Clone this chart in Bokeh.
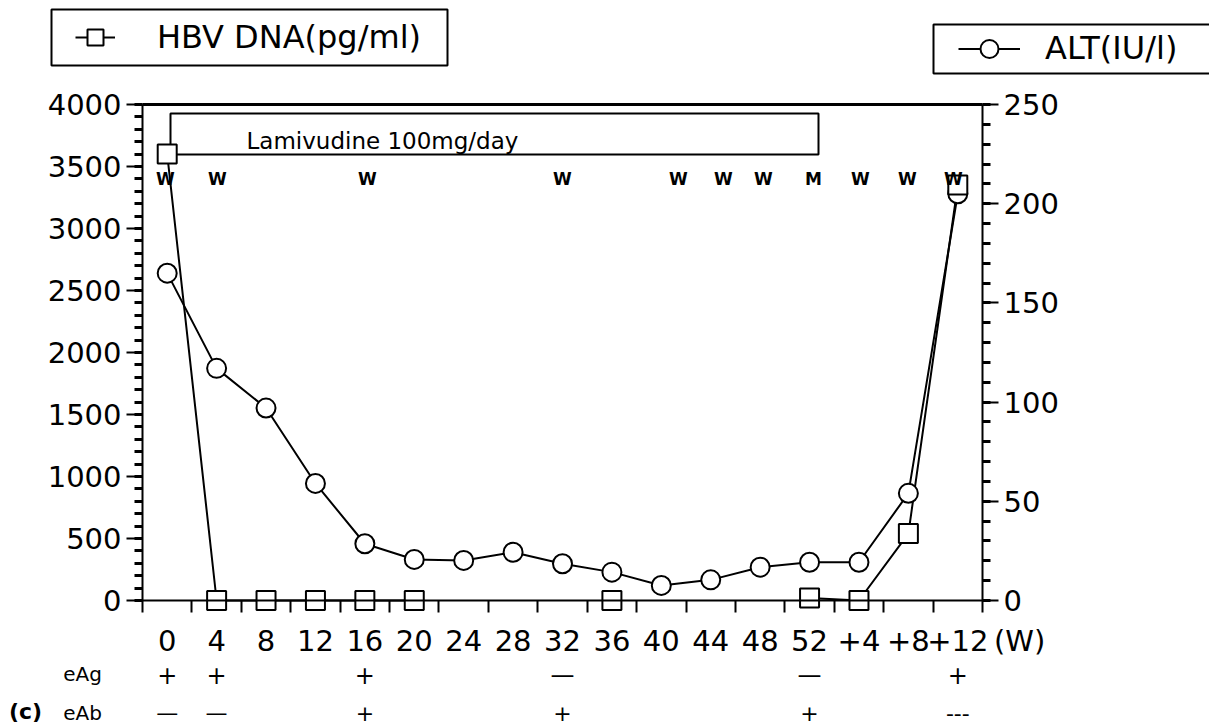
from bokeh.plotting import figure
from bokeh.layouts import column
from bokeh.models import (Range1d, LinearAxis, FixedTicker, SingleIntervalTicker, Span,
                          Label, LabelSet, ColumnDataSource, Legend, LegendItem)
from bokeh.core.properties import value
from bokeh.embed import file_html
from bokeh.resources import INLINE

NaN = float("nan")

# ---------------- data ----------------
weeks = ["0", "4", "8", "12", "16", "20", "24", "28", "32", "36", "40", "44", "48",
         "52", "+4", "+8", "+12"]
hbv_dna = [3600, 0, 0, 0, 0, 0, NaN, NaN, NaN, 0, NaN, NaN, NaN, 20, 0, 540, 3350]
alt_iu = [165, 117, 97, 59, 28.6, 20.7, 20.2, 24.3, 18.5, 14.3, 7.6, 10.4, 16.8,
          19.3, 19.3, 54, 205]

eag_weeks = ["0", "4", "16", "32", "52", "+12"]
eag_marks = ["+", "+", "+", "\u2014", "\u2014", "+"]
eab_weeks = ["0", "4", "16", "32", "52", "+12"]
eab_marks = ["\u2014", "\u2014", "+", "+", "+", "---"]

w_marks = ["W", "W", "W", "W", "W", "W", "W", "M", "W", "W", "W"]

# ---------------- layout constants (page px) ----------------
FONT = "DejaVu Sans"
TICK_FS = "29px"
WIDTH = 1209
T_H = 78                      # top strip (legends)
FL, FR = 142, 982             # main frame left / right
F_TOP, ZERO_Y, F_BOT = 104, 600, 612
B_TOP = 620
M_H = B_TOP - T_H
B_FRAME_TOP = 655
B_H = 726 - B_TOP

PPU = (FR - FL) / 34.0        # px per x unit
PLOT_H = ZERO_Y - F_TOP
y0 = -4000.0 * (F_BOT - ZERO_Y) / PLOT_H
a0 = -250.0 * (F_BOT - ZERO_Y) / PLOT_H


def yd(page_y):
    return (ZERO_Y - page_y) * 4000.0 / PLOT_H


def xd(page_x):
    return (page_x - FL) / PPU


xs = [2 * i + 1 for i in range(len(weeks))]

# ======================= top strip: legends =======================
top = figure(width=WIDTH, height=T_H, x_range=Range1d(0, WIDTH), y_range=Range1d(T_H, 0),
             output_backend="svg", toolbar_location=None, x_axis_location=None,
             y_axis_location=None, min_border=0)
top.frame_align = False
top.outline_line_color = None
top.xgrid.visible = False
top.ygrid.visible = False
top.quad(left=[51, 933], right=[447, 1240], top=[9, 24], bottom=[65, 73],
         fill_color=None, line_color="black", line_width=2)
OFF = [-5000]
t_line_h = top.line(OFF, OFF, line_color="black", line_width=2)
t_sq = top.scatter(OFF, OFF, marker="square", fill_color="white", line_color="black",
                   line_width=2)
t_line_a = top.line(OFF, OFF, line_color="black", line_width=2)
t_ci = top.scatter(OFF, OFF, marker="circle", fill_color="white", line_color="black",
                   line_width=2)


def item_legend(fig, label, rends, left_px, cy_px, gw, gh, standoff):
    lg = Legend(items=[LegendItem(label=label, renderers=rends)],
                location=(left_px, T_H - (cy_px + gh / 2.0)),
                padding=0, margin=0, spacing=0, label_standoff=standoff,
                glyph_width=gw, glyph_height=gh, label_height=gh,
                label_text_font=FONT, label_text_font_size="32px", label_text_color="black",
                border_line_color=None, background_fill_alpha=0.0)
    fig.add_layout(lg)


item_legend(top, "HBV DNA(pg/ml)", [t_line_h, t_sq], 75, 37, 40, 40, 42)
item_legend(top, "ALT(IU/l)", [t_line_a, t_ci], 958, 48, 62, 45, 25)

# ======================= main chart =======================
p = figure(width=WIDTH, height=M_H, x_range=Range1d(0, 34), y_range=Range1d(y0, 4000),
           output_backend="svg", toolbar_location=None,
           min_border_left=FL, min_border_right=WIDTH - FR, min_border_top=F_TOP - T_H,
           min_border_bottom=B_TOP - F_BOT)
p.frame_align = False
p.extra_y_ranges = {"alt": Range1d(a0, 250)}
p.outline_line_color = None
p.xgrid.visible = False
p.ygrid.visible = False

xa = p.xaxis[0]
xa.ticker = FixedTicker(ticks=xs, minor_ticks=[2 * i for i in range(1, len(weeks))])
xa.major_label_overrides = {x: "" for x in xs}
xa.axis_line_color = None
xa.major_tick_line_color = None
xa.major_tick_out = 0
xa.major_tick_in = 0
xa.minor_tick_in = F_BOT - ZERO_Y
xa.minor_tick_out = 0
xa.minor_tick_line_width = 2
xa.minor_tick_line_color = "black"
xa.major_label_standoff = 0
xa.major_label_text_font_size = "1px"

ya = p.yaxis[0]
ya.ticker = SingleIntervalTicker(interval=500, num_minor_ticks=5)
ra = LinearAxis(y_range_name="alt", ticker=SingleIntervalTicker(interval=50, num_minor_ticks=5))
p.add_layout(ra, "right")
for ax in (ya, ra):
    ax.axis_line_width = 2
    ax.axis_line_color = "black"
    ax.major_tick_out = 16
    ax.major_tick_in = 0
    ax.minor_tick_out = 8
    ax.minor_tick_in = 0
    ax.major_tick_line_width = 2
    ax.minor_tick_line_width = 3
    ax.major_tick_line_color = "black"
    ax.minor_tick_line_color = "black"
    ax.major_label_standoff = 5
    ax.major_label_text_font = FONT
    ax.major_label_text_font_size = TICK_FS
    ax.major_label_text_color = "black"

# top frame line as an axis with no ticks
ta = LinearAxis(ticker=FixedTicker(ticks=[]), axis_line_width=3, axis_line_color="black",
                major_tick_line_color=None, minor_tick_line_color=None,
                major_label_text_font_size="1px", major_label_standoff=0)
p.add_layout(ta, "above")
# horizontal zero line
p.add_layout(Span(location=0, dimension="width", line_color="black", line_width=2))

# Lamivudine box + label
p.quad(left=[xd(170)], right=[xd(818)], bottom=[yd(154)], top=[yd(113)],
       fill_color=None, line_color="black", line_width=2)
p.add_layout(Label(x=xd(246), y=yd(140), text="Lamivudine 100mg/day", text_font=FONT,
                   text_font_size="23px", text_baseline="middle", text_align="left",
                   text_color="black"))

# W / M marks
w_page_x = [165, 217, 367, 562, 678, 723, 763, 813, 860, 907, 953]
w_src = ColumnDataSource(dict(x=[xd(v) for v in w_page_x], y=[yd(178)] * len(w_marks),
                              t=w_marks))
p.add_layout(LabelSet(x="x", y="y", text="t", source=w_src, text_font=value(FONT),
                      text_font_size="17px", text_font_style="bold", text_align="center",
                      text_baseline="middle", text_color="black"))

# series
p.line(xs, alt_iu, y_range_name="alt", line_color="black", line_width=2)
p.line(xs, hbv_dna, line_color="black", line_width=2)
p.scatter(xs, alt_iu, y_range_name="alt", marker="circle", size=19,
          fill_color="white", line_color="black", line_width=2)
p.scatter(xs, hbv_dna, marker="square", size=19, fill_color="white",
          line_color="black", line_width=2)

# ======================= bottom strip: week labels, eAg / eAb =======================
bot = figure(width=WIDTH, height=B_H, x_range=Range1d(xd(0), xd(WIDTH)),
             y_range=Range1d(726, B_FRAME_TOP), output_backend="svg", toolbar_location=None,
             x_axis_location="above", y_axis_location=None,
             min_border_left=0, min_border_right=0, min_border_bottom=0,
             min_border_top=B_FRAME_TOP - B_TOP)
bot.frame_align = False
bot.outline_line_color = None
bot.xgrid.visible = False
bot.ygrid.visible = False
w_tick = 35.5
ba = bot.xaxis[0]
ba.ticker = FixedTicker(ticks=xs + [w_tick])
labels = {x: w for x, w in zip(xs, weeks)}
labels[w_tick] = "(W)"
ba.major_label_overrides = labels
ba.axis_line_color = None
ba.major_tick_line_color = None
ba.minor_tick_line_color = None
ba.major_tick_out = 0
ba.major_tick_in = 0
ba.major_label_standoff = 0
ba.major_label_text_font = FONT
ba.major_label_text_font_size = TICK_FS
ba.major_label_text_color = "black"


def row(wk, marks, page_y, size):
    bot.text(x=[xs[weeks.index(w)] for w in wk], y=[page_y] * len(wk), text=marks,
             text_font=value(FONT), text_font_size=size, text_align="center",
             text_baseline="middle", text_color="black")


row(eag_weeks, eag_marks, 673, "24px")
row(eab_weeks, eab_marks, 712, "22px")

bot.text(x=[xd(82), xd(82)], y=[672, 712], text=["eAg", "eAb"], text_font=value(FONT),
         text_font_size="20px", text_align="center", text_baseline="middle", text_color="black")
bot.text(x=[xd(25)], y=[711], text=["(c)"], text_font=value(FONT), text_font_size="22px",
         text_font_style="bold", text_align="center", text_baseline="middle", text_color="black")

layout = column(top, p, bot, spacing=0)
open("out.html", "w").write(file_html(layout, INLINE))
